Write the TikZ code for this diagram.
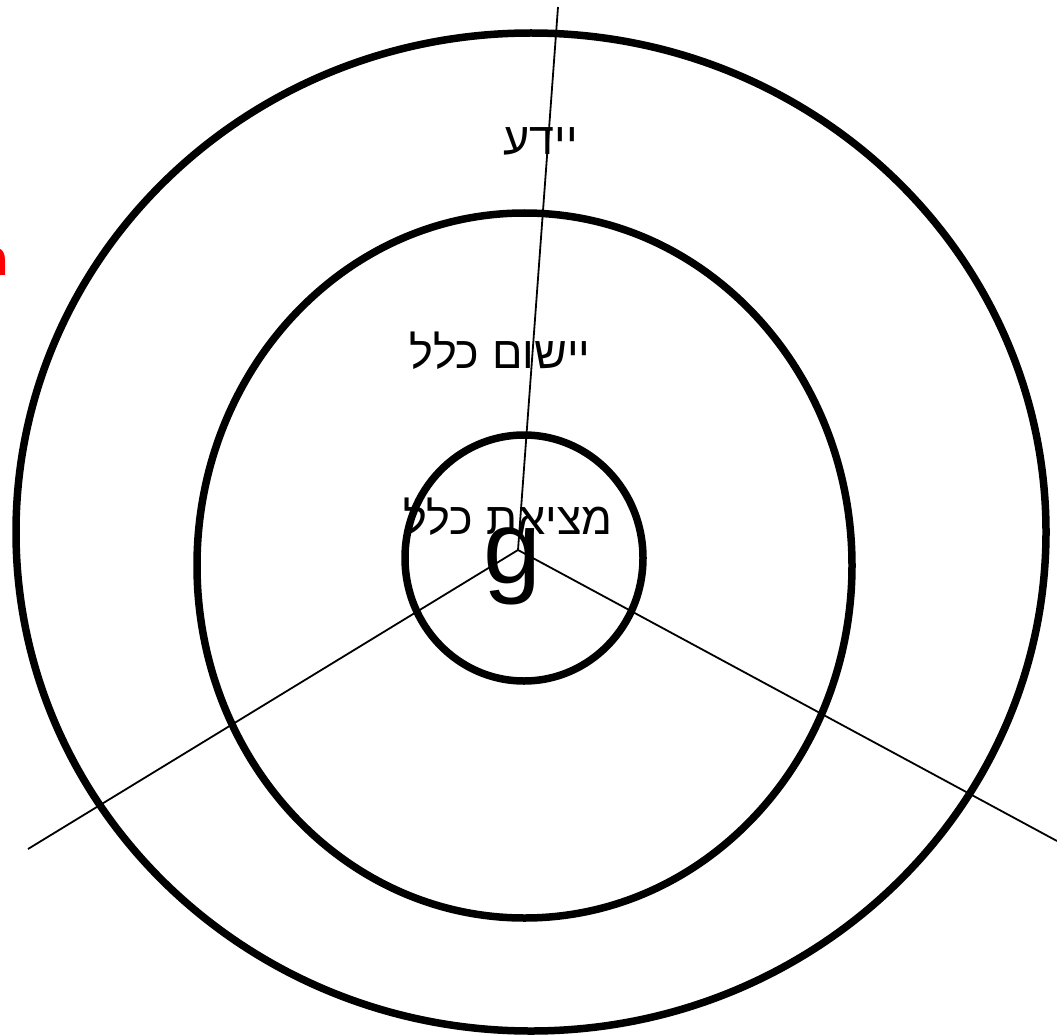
\documentclass[tikz,border=0pt]{standalone}
\usepackage{fontspec}
\setmainfont{Liberation Sans}
\newfontfamily\hebfont[Script=Hebrew]{Liberation Sans}
\TeXXeTstate=1
\usetikzlibrary{positioning}

\begin{document}
\begin{tikzpicture}[x=1pt,y=-1pt,
  ring/.style={line width=7.5pt},
  ray/.style={line width=1.8pt},
  label/.style={inner sep=0pt,font=\fontsize{45}{54}\selectfont\hebfont}]
\useasboundingbox (0,0) rectangle (1057,1035);
\clip (0,0) rectangle (1057,1035);
% rays from the middle
\coordinate (mid) at (518,550);
\coordinate (up) at (558,7);
\coordinate (lowleft) at (28,849);
\coordinate (lowright) at (1057,841);
\draw[ray] (mid) -- (up);
\draw[ray] (mid) -- (lowleft);
\draw[ray] (mid) -- (lowright);
% the three rings
\draw[ring] (531,532) ellipse [x radius=515, y radius=499];
\draw[ring] (524.5,565.5) ellipse [x radius=327.5, y radius=352.5];
\draw[ring] (524,558) ellipse [x radius=119, y radius=123];
% texts
\node[label] (know) at (541,141) {\beginR יידע\endR};
\node[label] (apply) at (500,351) {\beginR יישום כלל\endR};
\node[label] (find) at (508,517) {\beginR מציאת כלל\endR};
\node[inner sep=0pt,font=\fontsize{104}{120}\selectfont] (g) at (512,566) {g};
\node[anchor=east,inner sep=0pt,text=red,font=\fontsize{45}{54}\selectfont\bfseries\hebfont] (cut) at (9,262) {\beginR מ\endR};
\end{tikzpicture}
\end{document}
